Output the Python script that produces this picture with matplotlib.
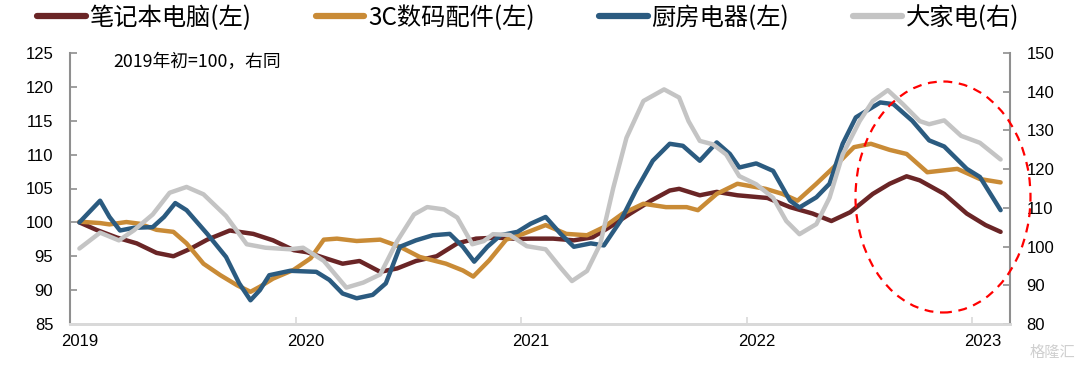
import matplotlib
matplotlib.use('Agg')
import matplotlib.pyplot as plt
from matplotlib.patches import Ellipse
from matplotlib.transforms import ScaledTranslation

plt.rcParams['font.family'] = ['Liberation Sans', 'Noto Sans CJK SC']

# x = months since start of 2019 (2019 start = 100)
laptop_m = [0.5, 1.4, 2.5, 3.55, 4.6, 5.5, 6.4, 7.3, 8.5, 9.75, 10.8, 11.9, 12.6, 13.65,
            14.5, 15.4, 16.5, 17.4, 18.4, 19.5, 20.6, 21.6, 22.7, 23.9, 24.5, 25.7, 26.8,
            27.8, 28.7, 29.8, 30.9, 31.9, 32.4, 33.5, 34.4, 35.5, 37.1, 38.3, 39.5, 40.5,
            41.5, 42.7, 43.6, 44.5, 45.2, 46.5, 47.7, 48.7, 49.5]
laptop_v = [100, 98.9, 97.75, 96.9, 95.5, 95.0, 96.1, 97.45, 98.8, 98.3, 97.35, 95.9, 95.6, 94.65,
            93.9, 94.3, 92.7, 93.2, 94.3, 95.0, 96.9, 97.6, 97.75, 97.55, 97.6, 97.6, 97.35,
            97.8, 99.3, 101.3, 103.2, 104.7, 104.95, 104.0, 104.5, 104.0, 103.6, 102.25, 101.3, 100.2,
            101.5, 104.2, 105.7, 106.8, 106.2, 104.2, 101.3, 99.6, 98.6]

acc_m = [0.5, 1.6, 2.1, 3.0, 3.7, 4.6, 5.5, 6.2, 7.1, 8.0, 8.9, 9.6, 10.1, 10.8, 11.9, 12.8,
         13.5, 14.2, 15.25, 16.5, 17.55, 18.6, 20.0, 20.9, 21.45, 22.3, 23.2, 24.1, 25.3, 26.4,
         27.5, 28.4, 29.4, 30.5, 31.7, 32.8, 33.4, 34.4, 35.5, 37.0, 37.9, 38.7, 39.7, 40.8,
         41.7, 42.6, 43.6, 44.5, 45.6, 47.2, 48.4, 49.5]
acc_v = [100.1, 99.9, 99.7, 100.05, 99.8, 98.9, 98.6, 96.9, 93.9, 92.2, 90.7, 89.75, 90.5, 91.7, 93.0, 94.7,
         97.45, 97.6, 97.25, 97.45, 96.4, 94.9, 93.9, 92.9, 92.0, 94.4, 97.45, 98.3, 99.6, 98.3,
         98.1, 99.3, 101.3, 102.75, 102.25, 102.25, 101.8, 104.2, 105.7, 104.95, 104.2, 103.2, 105.7, 108.6,
         111.1, 111.6, 110.7, 110.1, 107.4, 107.9, 106.4, 105.9]

kitchen_m = [0.5, 1.6, 2.1, 2.66, 3.4, 4.4, 5.0, 5.6, 6.2, 7.3, 8.3, 9.0, 9.6, 10.1, 10.6, 11.7,
             13.1, 13.8, 14.5, 15.25, 16.1, 16.8, 17.55, 18.4, 19.3, 20.2, 20.9, 21.5, 22.2, 22.9,
             23.8, 24.5, 25.3, 26.1, 26.8, 27.7, 28.4, 29.3, 30.1, 31.0, 31.9, 32.6, 33.5, 34.4,
             35.1, 35.6, 36.5, 37.4, 38.3, 38.8, 39.7, 40.4, 41.1, 41.8, 43.1, 43.8, 44.8, 45.7,
             46.5, 47.7, 48.4, 49.5]
kitchen_v = [100, 103.2, 100.8, 98.8, 99.2, 99.3, 100.8, 102.85, 101.8, 98.3, 94.9, 91.0, 88.5, 90.0, 92.2, 92.85,
             92.7, 91.5, 89.5, 88.8, 89.3, 91.0, 96.4, 97.35, 98.1, 98.3, 96.4, 94.2, 96.4, 98.1,
             98.6, 99.8, 100.8, 98.3, 96.4, 96.9, 96.6, 100.3, 104.7, 109.1, 111.6, 111.3, 109.1, 111.8,
             110.1, 108.1, 108.7, 107.6, 103.2, 102.2, 103.7, 105.7, 111.6, 115.5, 117.7, 117.45, 115.0, 112.1,
             111.2, 107.9, 106.7, 101.8]

# right axis series
big_m = [0.5, 1.6, 2.6, 3.4, 4.4, 5.3, 6.2, 7.1, 8.3, 9.4, 10.4, 11.7, 12.4, 13.5, 14.7, 15.6,
         16.5, 17.4, 18.3, 19.0, 19.9, 20.6, 21.4, 22.0, 22.5, 23.4, 24.3, 25.3, 26.1, 26.7,
         27.5, 28.2, 28.9, 29.6, 30.5, 31.6, 32.4, 32.9, 33.5, 34.2, 34.9, 35.6, 36.5, 37.4,
         38.1, 38.8, 39.7, 40.4, 41.1, 42.0, 42.7, 43.5, 44.3, 45.2, 45.7, 46.5, 47.4, 48.4, 49.5]
big_v = [99.5, 103.6, 101.6, 104.2, 108.3, 113.9, 115.4, 113.5, 107.9, 100.6, 99.7, 99.3, 99.7, 96.3, 89.4, 90.7,
         92.8, 101.4, 108.3, 110.2, 109.6, 107.5, 100.6, 101.4, 103.2, 103.0, 100.1, 99.3, 94.5, 91.1,
         93.7, 100.6, 115.2, 128.1, 137.6, 140.6, 138.5, 132.4, 127.3, 126.4, 123.8, 118.2, 116.1, 112.6,
         106.6, 103.2, 105.8, 112.6, 123.8, 132.4, 137.6, 140.4, 136.8, 132.4, 131.6, 132.6, 128.6, 126.8, 122.5]

year_ticks = [0, 12, 24, 36, 48]
year_labels = ['2019', '2020', '2021', '2022', '2023']

names = ['笔记本电脑(左)', '3C数码配件(左)', '厨房电器(左)', '大家电(右)']
colors = ['#6A2526', '#C98B36', '#2B5B80', '#C4C4C4']

fig = plt.figure(figsize=(10.8, 3.71), dpi=100)
ax = fig.add_axes([70 / 1080, 47 / 371, 940 / 1080, 271 / 371])
ax2 = ax.twinx()

lw = 3.2
l1, = ax.plot(laptop_m, laptop_v, color=colors[0], lw=lw, solid_joinstyle='round', solid_capstyle='round')
l2, = ax.plot(acc_m, acc_v, color=colors[1], lw=lw, solid_joinstyle='round', solid_capstyle='round')
l3, = ax.plot(kitchen_m, kitchen_v, color=colors[2], lw=lw, solid_joinstyle='round', solid_capstyle='round')
l4, = ax2.plot(big_m, big_v, color=colors[3], lw=lw, solid_joinstyle='round', solid_capstyle='round')

ax.set_xlim(0, 50)
ax.set_ylim(85, 125)
ax.set_yticks(range(85, 126, 5))
ax2.set_ylim(80, 150)
ax2.set_yticks(range(80, 151, 10))
ax.set_xticks(year_ticks)
ax.set_xticklabels(year_labels)

# spines
for a in (ax, ax2):
    a.spines['top'].set_visible(False)
    a.spines['bottom'].set_color('#d9d9d9')
    a.spines['bottom'].set_linewidth(2)
ax.spines['right'].set_visible(False)
ax2.spines['left'].set_visible(False)
ax.spines['left'].set_color('#8f8f8f')
ax.spines['left'].set_linewidth(1.5)
ax2.spines['right'].set_color('#8f8f8f')
ax2.spines['right'].set_linewidth(1.5)

ax.tick_params(axis='y', direction='in', length=5, width=1.2, color='#8f8f8f', labelsize=12, pad=12)
ax2.tick_params(axis='y', direction='in', length=5, width=1.2, color='#8f8f8f', labelsize=12, pad=12)
ax.tick_params(axis='x', direction='in', length=5, width=1.2, color='#d9d9d9', labelsize=12, pad=7)

# year labels sit a little right of their ticks
offset = ScaledTranslation(10 / 100, 0, fig.dpi_scale_trans)
for lbl in ax.get_xticklabels():
    lbl.set_transform(lbl.get_transform() + offset)

fig.text(113 / 1080, 1 - 62 / 371, '2019年初=100，右同', fontsize=12.8, va='center', ha='left',
         family=['Noto Sans CJK SC', 'DejaVu Sans'])

leg = fig.legend([l1, l2, l3, l4], names, loc='center left', bbox_to_anchor=(37 / 1080, 1 - 18 / 371),
                 ncol=4, frameon=False, handlelength=2.0, handletextpad=0.15, columnspacing=2.65,
                 borderaxespad=0, borderpad=0,
                 prop={'family': ['Noto Sans CJK SC', 'DejaVu Sans'], 'size': 17.5})
for h in leg.get_lines():
    h.set_linewidth(4.5)

# red dashed ellipse highlighting the recent period
ell = Ellipse((943 / 1080, 1 - 197 / 371), 175 / 1080, 231 / 371, transform=fig.transFigure,
              fill=False, edgecolor='#ff0000', lw=1.6, ls=(0, (4, 3)), zorder=5)
fig.add_artist(ell)

fig.text(1075 / 1080, 1 - 352 / 371, '格隆汇', fontsize=11, color='#cfcfcf', ha='right', va='center',
         family=['Noto Sans CJK SC', 'DejaVu Sans'])

plt.savefig('out.png', dpi=100)
